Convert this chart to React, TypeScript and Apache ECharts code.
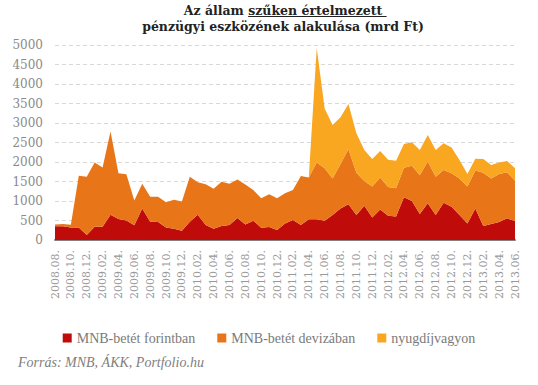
import React, { useEffect, useRef } from "react";
import * as echarts from "echarts";

const months = [
  "2008.08.", "2008.09.", "2008.10.", "2008.11.", "2008.12.",
  "2009.01.", "2009.02.", "2009.03.", "2009.04.", "2009.05.", "2009.06.", "2009.07.", "2009.08.", "2009.09.", "2009.10.", "2009.11.", "2009.12.",
  "2010.01.", "2010.02.", "2010.03.", "2010.04.", "2010.05.", "2010.06.", "2010.07.", "2010.08.", "2010.09.", "2010.10.", "2010.11.", "2010.12.",
  "2011.01.", "2011.02.", "2011.03.", "2011.04.", "2011.05.", "2011.06.", "2011.07.", "2011.08.", "2011.09.", "2011.10.", "2011.11.", "2011.12.",
  "2012.01.", "2012.02.", "2012.03.", "2012.04.", "2012.05.", "2012.06.", "2012.07.", "2012.08.", "2012.09.", "2012.10.", "2012.11.", "2012.12.",
  "2013.01.", "2013.02.", "2013.03.", "2013.04.", "2013.05.", "2013.06.",
];

const forint = [
  350, 350, 320, 320, 130, 340, 340, 650, 540, 500,
  380, 810, 470, 460, 320, 290, 240, 470, 650, 385,
  290, 360, 385, 565, 400, 495, 315, 335, 255, 420,
  510, 385, 530, 530, 495, 640, 810, 915, 640, 880,
  580, 785, 620, 600, 1095, 1000, 665, 940, 640, 955,
  855, 640, 425, 810, 360, 410, 460, 555, 485,
];

const deviza = [
  50, 60, 70, 1330, 1495, 1650, 1520, 2130, 1170, 1185,
  630, 630, 640, 650, 650, 740, 745, 1155, 830, 1045,
  1025, 1135, 1060, 985, 1025, 785, 755, 835, 815, 780,
  770, 1255, 1070, 1455, 1345, 940, 1140, 1410, 1085, 635,
  790, 815, 740, 725, 760, 905, 995, 1070, 985, 840,
  855, 940, 945, 970, 1365, 1165, 1230, 1180, 1035,
];

const nyugdij = [
  null, null, null, null, null, null, null, null, null, null,
  null, null, null, null, null, null, null, null, null, null,
  null, null, null, null, null, null, null, null, null, null,
  null, null, 0, 2935, 1535, 1370, 1195, 1165, 1010, 795,
  705, 680, 700, 710, 605, 600, 650, 680, 685, 685,
  665, 470, 320, 305, 350, 350, 300, 290, 320,
];

const seriesNames = ["MNB-betét forintban", "MNB-betét devizában", "nyugdíjvagyon"];
const seriesColors = ["#c00b0b", "#e87517", "#f9a620"];

const titleLine1a = "Az állam ";
const titleLine1b = "szűken értelmezett";
const titleLine2 = "pénzügyi eszközének alakulása (mrd Ft)";
const sourceText = "Forrás: MNB, ÁKK, Portfolio.hu";

function measure(text: string, font: string): number {
  const c = document.createElement("canvas").getContext("2d");
  if (!c) return text.length * 7;
  c.font = font;
  return c.measureText(text).width;
}

export default function App() {
  const ref = useRef<HTMLDivElement>(null);

  useEffect(() => {
    if (!ref.current) return;
    const chart = echarts.init(ref.current, null, { renderer: "svg" });
    const serif = '"Liberation Serif", "DejaVu Serif", serif';
    const titleFont = 'bold 12.5px "DejaVu Serif", serif';
    const wA = measure(titleLine1a, titleFont);
    const wB = measure(titleLine1b, titleFont);
    const wSp = measure(" ", titleFont);
    const cx = 283;
    const x0 = cx - (wA + wB) / 2;

    const data = [forint, deviza, nyugdij];

    chart.setOption({
      animation: false,
      grid: { left: 55, right: 23, top: 45, bottom: 145, containLabel: false },
      legend: {
        top: 326,
        left: "center",
        itemWidth: 9,
        itemHeight: 9,
        itemGap: 22,
        icon: "rect",
        data: seriesNames,
        textStyle: { fontFamily: serif, fontSize: 14, color: "#7a7a7a" },
      },
      xAxis: {
        type: "category",
        data: months,
        boundaryGap: false,
        axisLine: { show: true, lineStyle: { color: "#808080", width: 2 } },
        axisTick: { show: false },
        axisLabel: {
          interval: 1,
          rotate: 90,
          margin: 10,
          fontFamily: '"DejaVu Serif", serif',
          fontSize: 11,
          color: "#999999",
        },
      },
      yAxis: {
        type: "value",
        min: 0,
        max: 5000,
        interval: 500,
        axisLine: { show: false },
        axisTick: { show: false },
        axisLabel: {
          margin: 12,
          fontFamily: '"DejaVu Serif", serif',
          fontSize: 12,
          color: "#8a8a8a",
          formatter: (v: number) => String(v),
        },
        splitLine: { lineStyle: { color: "#d9d9d9", type: [4, 3], width: 1 } },
      },
      series: seriesNames.map((name, i) => ({
        name,
        type: "line",
        stack: "total",
        data: data[i],
        showSymbol: false,
        symbol: "none",
        lineStyle: { width: 0, color: seriesColors[i] },
        itemStyle: { color: seriesColors[i] },
        areaStyle: { color: seriesColors[i], opacity: 1 },
      })),
      graphic: [
        {
          type: "text",
          x: x0,
          y: 10.5,
          style: { text: titleLine1a, font: titleFont, fill: "#222222", textAlign: "left", textVerticalAlign: "middle" },
        },
        {
          type: "text",
          x: x0 + wA,
          y: 10.5,
          style: { text: titleLine1b, font: titleFont, fill: "#222222", textAlign: "left", textVerticalAlign: "middle" },
        },
        {
          type: "line",
          shape: { x1: x0 + wA, y1: 16.5, x2: x0 + wA + wB + wSp, y2: 16.5 },
          style: { stroke: "#222222", lineWidth: 1 },
        },
        {
          type: "text",
          x: cx,
          y: 26.5,
          style: { text: titleLine2, font: titleFont, fill: "#222222", textAlign: "center", textVerticalAlign: "middle" },
        },
        {
          type: "text",
          x: 18,
          y: 362,
          style: {
            text: sourceText,
            font: `italic 14px ${serif}`,
            fill: "#808080",
            textAlign: "left",
            textVerticalAlign: "middle",
          },
        },
      ],
    });
    return () => chart.dispose();
  }, []);

  return (
    <div
      ref={ref}
      style={{ position: "absolute", left: 0, top: 0, width: 538, height: 385 }}
    />
  );
}
